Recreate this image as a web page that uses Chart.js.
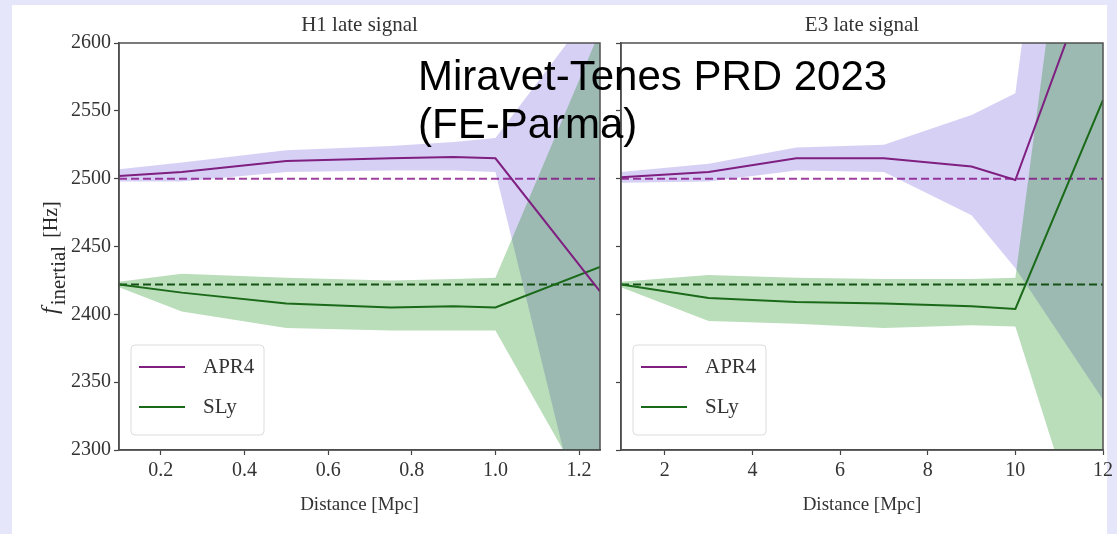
<!DOCTYPE html>
<html>
<head>
<meta charset="utf-8">
<script src="https://cdn.jsdelivr.net/npm/chart.js@4.4.0/dist/chart.umd.min.js"></script>
<style>
  body { margin: 0; background: #e6e6fa; width: 1117px; height: 534px; overflow: hidden; position: relative; }
  #sheet { position: absolute; left: 12px; top: 5px; width: 1095px; height: 529px; background: #fff; }
  #left { position: absolute; left: 0; top: 0; }
  #right { position: absolute; left: 612px; top: 0; }
  #stamp { position: absolute; left: 418px; top: 52px; font: 42px "Liberation Sans", Arial, sans-serif;
           line-height: 48px; color: #000; white-space: pre; z-index: 10; }
</style>
</head>
<body>
<div id="sheet"></div>
<canvas id="left" width="612" height="534"></canvas>
<canvas id="right" width="505" height="534"></canvas>
<div id="stamp">Miravet-Tenes PRD 2023
(FE-Parma)</div>
<script>
// H1 late signal
var h1Dist    = [0.1, 0.25, 0.5, 0.75, 0.9, 1.0, 1.25];
var h1Apr4    = [2502, 2505, 2513, 2515, 2516, 2515, 2417];
var h1Apr4Lo  = [2498, 2498, 2505, 2506, 2506, 2505, 2189];
var h1Apr4Hi  = [2507, 2512, 2521, 2524, 2527, 2530, 2632];
var h1Sly     = [2422, 2416, 2408, 2405, 2406, 2405, 2435];
var h1SlyLo   = [2420, 2402, 2390, 2388, 2388, 2388, 2252];
var h1SlyHi   = [2424, 2430, 2427, 2425, 2426, 2427, 2609];
var h1Range   = [0.1, 1.25];
var h1Ticks   = [0.2, 0.4, 0.6, 0.8, 1.0, 1.2];

// E3 late signal
var e3Dist    = [1, 3, 5, 7, 9, 10, 12];
var e3Apr4    = [2501, 2505, 2515, 2515, 2509, 2499, 2675];
var e3Apr4Lo  = [2497, 2498, 2506, 2505, 2473, 2434, 2337];
var e3Apr4Hi  = [2505, 2511, 2523, 2525, 2547, 2563, 3050];
var e3Sly     = [2422, 2412, 2409, 2408, 2406, 2404, 2558];
var e3SlyLo   = [2420, 2395, 2393, 2390, 2392, 2391, 2187];
var e3SlyHi   = [2424, 2429, 2427, 2426, 2426, 2427, 2921];
var e3Range   = [1, 12];
var e3Ticks   = [2, 4, 6, 8, 10, 12];

// reference frequencies (dashed)
var apr4Ref = 2500;
var slyRef  = 2422;

var yRange = [2300, 2600];
var yTicks = [2300, 2350, 2400, 2450, 2500, 2550, 2600];

var serif = '"Liberation Serif", "Times New Roman", serif';
Chart.defaults.font.family = serif;
Chart.defaults.color = '#333';

function pts(xs, ys) {
  return xs.map(function (x, i) { return { x: x, y: ys[i] }; });
}

function band(data, color, order) {
  return [
    { data: data[0], borderWidth: 0, borderColor: 'transparent', backgroundColor: 'transparent',
      pointRadius: 0, fill: false, order: order },
    { data: data[1], borderWidth: 0, borderColor: 'transparent', backgroundColor: color,
      pointRadius: 0, fill: '-1', order: order }
  ];
}

function refLine(range, y, color) {
  return { data: pts(range, [y, y]), borderColor: color, borderWidth: 2, borderDash: [8, 4],
           pointRadius: 0, fill: false, order: 1 };
}

function buildDatasets(d, apr4, apr4Lo, apr4Hi, sly, slyLo, slyHi, range) {
  var sets = [
    { label: 'APR4', legend: true, data: pts(d, apr4), borderColor: '#7f1f80', borderWidth: 2,
      pointRadius: 0, fill: false, order: 0 },
    { label: 'SLy', legend: true, data: pts(d, sly), borderColor: '#1a6a1a', borderWidth: 2,
      pointRadius: 0, fill: false, order: 0 },
    refLine(range, apr4Ref, 'rgba(128,0,128,0.75)'),
    refLine(range, slyRef, '#155015')
  ];
  sets = sets.concat(band([pts(d, slyLo), pts(d, slyHi)], 'rgba(0,128,0,0.27)', 2));
  sets = sets.concat(band([pts(d, apr4Lo), pts(d, apr4Hi)], 'rgba(118,98,222,0.3)', 3));
  return sets;
}

// frame, titles, legend and y label drawn by hand
var decor = {
  id: 'decor',
  afterDraw: function (chart, args, opts) {
    var ctx = chart.ctx, a = chart.chartArea;
    var cx = (a.left + a.right) / 2;
    ctx.save();
    ctx.strokeStyle = '#505050';
    ctx.lineWidth = 1.5;
    ctx.strokeRect(a.left, a.top, a.right - a.left, a.bottom - a.top);

    ctx.fillStyle = '#333';
    ctx.textAlign = 'center';
    ctx.textBaseline = 'middle';
    ctx.font = '21px ' + serif;
    ctx.fillText(opts.title, cx, a.top - 18);
    ctx.font = '19px ' + serif;
    ctx.fillText('Distance [Mpc]', cx, a.bottom + 55);

    // legend
    var bx = a.left + 12, bw = 133, bh = 90, by = a.bottom - 15 - bh;
    ctx.beginPath();
    ctx.roundRect(bx, by, bw, bh, 4);
    ctx.fillStyle = 'rgba(255,255,255,0.85)';
    ctx.fill();
    ctx.strokeStyle = '#dcdcdc';
    ctx.lineWidth = 1;
    ctx.stroke();
    var items = chart.data.datasets.filter(function (s) { return s.legend; });
    ctx.textAlign = 'left';
    ctx.font = '21px ' + serif;
    items.forEach(function (s, i) {
      var y = by + 22 + i * 40;
      ctx.beginPath();
      ctx.moveTo(bx + 8, y);
      ctx.lineTo(bx + 54, y);
      ctx.strokeStyle = s.borderColor;
      ctx.lineWidth = 2;
      ctx.stroke();
      ctx.fillStyle = '#333';
      ctx.fillText(s.label, bx + 72, y);
    });

    if (opts.yLabel) {
      ctx.translate(57, 314);
      ctx.rotate(-Math.PI / 2);
      ctx.textBaseline = 'alphabetic';
      ctx.fillStyle = '#2a2a2a';
      ctx.font = 'italic 24px ' + serif;
      ctx.fillText('f', 0, 0);
      var w1 = ctx.measureText('f').width + 2;
      ctx.font = '21px ' + serif;
      ctx.fillText('inertial', w1, 8);
      var w2 = ctx.measureText('inertial').width;
      ctx.font = '20px ' + serif;
      ctx.fillText('[Hz]', w1 + w2 + 8, 0);
    }
    ctx.restore();
  }
};

function makePanel(id, cfg) {
  return new Chart(document.getElementById(id), {
    type: 'line',
    data: { datasets: cfg.datasets },
    plugins: [decor],
    options: {
      responsive: false,
      animation: false,
      layout: { padding: { top: 43, right: cfg.padRight, bottom: 0, left: 0 } },
      plugins: {
        legend: { display: false },
        tooltip: { enabled: false },
        decor: { title: cfg.title, yLabel: cfg.yLabel }
      },
      scales: {
        x: {
          type: 'linear', min: cfg.range[0], max: cfg.range[1],
          afterBuildTicks: function (s) { s.ticks = cfg.ticks.map(function (v) { return { value: v }; }); },
          ticks: { callback: cfg.fmt, padding: 4, maxRotation: 0, autoSkip: false,
                   font: { size: 20 }, color: '#333' },
          grid: { drawOnChartArea: false, drawTicks: true, tickLength: 5, color: '#444', tickWidth: 1.2 },
          border: { display: true, color: '#444', width: 1.5 },
          afterFit: function (s) { s.height = 84; }
        },
        y: {
          min: yRange[0], max: yRange[1],
          afterBuildTicks: function (s) { s.ticks = yTicks.map(function (v) { return { value: v }; }); },
          ticks: { display: cfg.yLabel, padding: 3, font: { size: 20 }, color: '#333',
                   callback: function (v) { return String(v); } },
          grid: { drawOnChartArea: false, drawTicks: true, tickLength: 5, color: '#444', tickWidth: 1.2 },
          border: { display: true, color: '#444', width: 1.5 },
          afterFit: function (s) { s.width = cfg.yWidth; }
        }
      }
    }
  });
}

makePanel('left', {
  title: 'H1 late signal', yLabel: true, yWidth: 119, padRight: 12,
  range: h1Range, ticks: h1Ticks,
  fmt: function (v) { return v.toFixed(1); },
  datasets: buildDatasets(h1Dist, h1Apr4, h1Apr4Lo, h1Apr4Hi, h1Sly, h1SlyLo, h1SlyHi, h1Range)
});

makePanel('right', {
  title: 'E3 late signal', yLabel: false, yWidth: 9, padRight: 13,
  range: e3Range, ticks: e3Ticks,
  fmt: function (v) { return String(v); },
  datasets: buildDatasets(e3Dist, e3Apr4, e3Apr4Lo, e3Apr4Hi, e3Sly, e3SlyLo, e3SlyHi, e3Range)
});
</script>
</body>
</html>
